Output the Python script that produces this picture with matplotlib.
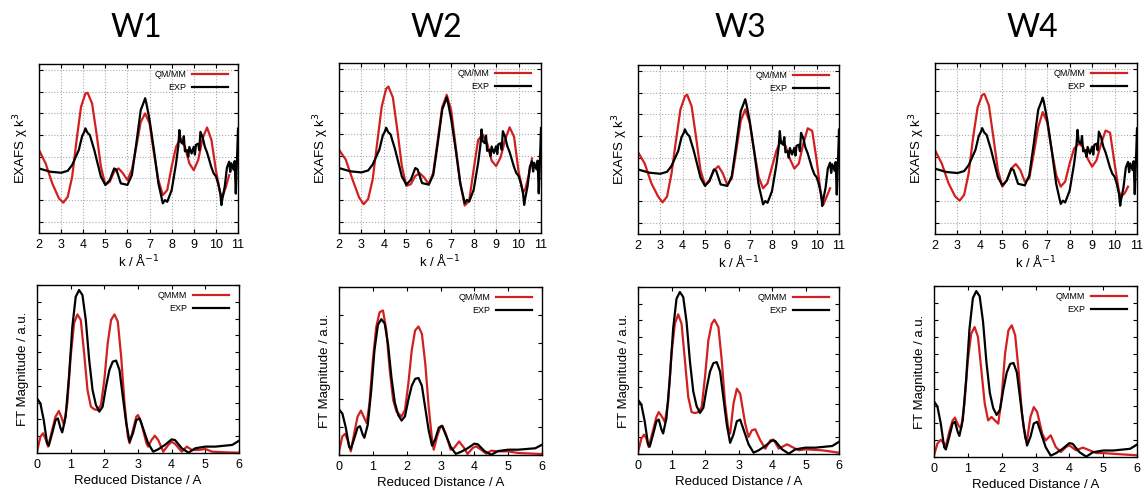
import matplotlib
matplotlib.use('Agg')
import matplotlib.pyplot as plt

# ---- EXAFS chi k^3 (top row); EXP is the same measurement in every panel ----
exp_k = [2.0, 2.5, 3.0, 3.3, 3.5, 3.8, 3.95, 4.05, 4.1, 4.15, 4.2, 4.3, 4.5, 4.8, 5.0, 5.2,
         5.4, 5.5, 5.7, 6.0, 6.2, 6.4, 6.6, 6.75, 6.8, 6.85, 7.0, 7.2, 7.4, 7.6, 7.7, 7.8,
         8.0, 8.2, 8.3, 8.35, 8.4, 8.5, 8.55, 8.6, 8.7, 8.75, 8.8, 8.9, 9.0, 9.05, 9.1,
         9.2, 9.25, 9.3, 9.4, 9.5, 9.6, 9.7, 9.8, 9.9, 10.0, 10.1, 10.2, 10.25, 10.3, 10.4,
         10.5, 10.6, 10.65, 10.7, 10.8, 10.85, 10.9, 10.95, 11.0]
exp_chi = [-0.54, -0.69, -0.74, -0.65, -0.38, 0.31, 0.95, 1.15, 1.31, 1.2, 1.1, 1.0, 0.31,
           -0.92, -1.3, -1.08, -0.54, -0.6, -1.23, -1.3, -0.85, 0.6, 2.15, 2.55, 2.7, 2.5,
           1.7, 0.3, -1.23, -2.15, -2.0, -2.08, -1.54, -0.3, 0.5, 1.23, 0.7, 0.6, 0.95,
           0.25, 0.3, 0.0, 0.45, 0.15, 0.46, 0.1, 0.55, 0.6, 0.3, 1.15, 0.9, 0.46, 0.2,
           -0.15, -0.5, -0.77, -0.9, -1.23, -1.7, -2.23, -1.9, -1.38, -0.5, -0.23, -0.7,
           -0.3, -0.6, -0.2, -1.7, -0.3, 1.3]

qm_k = [2.0, 2.3, 2.6, 2.9, 3.1, 3.3, 3.5, 3.7, 3.9, 4.1, 4.2, 4.4, 4.6, 4.8, 5.0, 5.2,
        5.4, 5.6, 5.8, 6.0, 6.2, 6.4, 6.6, 6.8, 7.0, 7.2, 7.4, 7.6, 7.8, 8.0, 8.2, 8.4,
        8.6, 8.8, 9.0, 9.2, 9.4, 9.6, 9.8, 10.0, 10.2, 10.3, 10.45, 10.6]
qm_chi_w1 = [0.31, -0.31, -1.23, -1.92, -2.12, -1.85, -0.92, 0.77, 2.3, 2.92, 2.95, 2.46,
             1.08, -0.46, -1.3, -1.15, -0.69, -0.54, -0.77, -1.08, -0.6, 0.46, 1.6, 2.0,
             1.54, 0.15, -1.08, -1.77, -1.54, -0.46, 0.46, 0.85, 0.46, -0.31, -0.62, -0.15,
             0.85, 1.35, 0.77, -0.62, -1.7, -1.85, -1.4, -0.85]
qm_chi_w2 = [0.3, -0.15, -1.06, -1.9, -2.2, -1.96, -1.06, 0.6, 2.26, 3.1, 3.2, 2.7,
             1.2, -0.45, -1.36, -1.28, -0.9, -0.78, -0.98, -1.28, -0.75, 0.75, 2.26, 2.82,
             2.1, 0.45, -1.2, -2.26, -2.04, -0.6, 0.75, 1.0, 0.6, -0.2, -0.45, -0.05,
             0.75, 1.33, 0.9, -0.7, -1.66, -1.5, -0.9, -0.1]
qm_chi_w3 = [0.26, -0.27, -1.18, -1.79, -2.06, -1.79, -0.73, 0.79, 2.23, 2.83, 2.91, 2.38,
             0.94, -0.58, -1.26, -1.03, -0.58, -0.39, -0.73, -1.26, -0.95, 0.33, 1.7, 2.23,
             1.62, 0.33, -0.88, -1.41, -1.18, -0.42, 0.33, 0.79, 0.56, -0.05, -0.5, -0.27,
             0.64, 1.36, 1.24, -0.12, -1.79, -2.17, -1.79, -1.41]
qm_chi_w4 = [0.3, -0.3, -1.2, -1.81, -2.0, -1.73, -0.75, 0.9, 2.26, 2.82, 2.87, 2.34,
             0.9, -0.6, -1.36, -1.06, -0.53, -0.33, -0.6, -1.13, -0.98, 0.15, 1.36, 2.04,
             1.58, 0.3, -0.83, -1.36, -1.13, -0.3, 0.38, 0.6, 0.45, -0.08, -0.45, -0.15,
             0.6, 1.2, 1.1, -0.3, -1.6, -1.81, -1.66, -1.36]

# ---- FT magnitude (bottom row) ----
exp_r = [0.0, 0.1, 0.2, 0.3, 0.35, 0.45, 0.55, 0.62, 0.7, 0.75, 0.85, 0.95, 1.05, 1.15,
         1.25, 1.35, 1.45, 1.55, 1.65, 1.75, 1.85, 1.95, 2.05, 2.15, 2.25, 2.35, 2.45,
         2.55, 2.65, 2.75, 2.85, 2.95, 3.05, 3.15, 3.3, 3.45, 3.6, 3.8, 4.0, 4.1, 4.3,
         4.5, 4.7, 5.0, 5.3, 5.6, 5.8, 6.0]
exp_ft = [3.25, 2.96, 1.96, 0.58, 0.44, 1.17, 1.96, 2.06, 1.47, 1.23, 2.16, 4.54, 7.52,
          9.3, 9.7, 9.4, 7.9, 5.54, 3.75, 2.86, 2.46, 2.76, 3.95, 4.94, 5.44, 5.5, 4.94,
          3.35, 1.77, 0.67, 1.17, 1.96, 2.06, 1.47, 0.58, 0.08, 0.22, 0.48, 0.81, 0.77,
          0.28, 0.02, 0.28, 0.38, 0.38, 0.44, 0.48, 0.73]

qm_r_w1 = [0.0, 0.1, 0.18, 0.25, 0.33, 0.45, 0.55, 0.65, 0.72, 0.8, 0.9, 1.0, 1.1, 1.2,
           1.3, 1.4, 1.5, 1.6, 1.7, 1.8, 1.9, 2.0, 2.1, 2.2, 2.3, 2.4, 2.5, 2.6, 2.7, 2.75,
           2.85, 2.95, 3.0, 3.1, 3.25, 3.3, 3.4, 3.5, 3.6, 3.75, 3.9, 4.0, 4.1, 4.3, 4.45,
           4.6, 4.8, 5.0, 5.2, 5.6, 6.0]
qm_ft_w1 = [0.08, 0.97, 1.17, 0.87, 0.38, 1.37, 2.16, 2.5, 2.16, 1.67, 2.96, 5.73, 7.72,
            8.25, 7.92, 5.93, 3.75, 2.76, 2.6, 2.56, 2.86, 4.35, 6.53, 7.92, 8.25, 7.82,
            5.73, 2.96, 0.97, 0.58, 1.37, 2.16, 2.26, 1.77, 0.58, 0.38, 0.77, 1.03, 0.77,
            0.08, 0.48, 0.67, 0.54, 0.08, 0.38, 0.18, 0.18, 0.24, 0.08, 0.04, 0.02]
qm_r_w2 = [0.0, 0.1, 0.18, 0.25, 0.35, 0.45, 0.55, 0.65, 0.75, 0.82, 0.9, 1.0, 1.1, 1.2,
           1.3, 1.4, 1.5, 1.6, 1.7, 1.85, 1.95, 2.05, 2.15, 2.25, 2.35, 2.45, 2.55, 2.65,
           2.75, 2.8, 2.9, 3.0, 3.05, 3.15, 3.3, 3.4, 3.55, 3.7, 3.8, 3.95, 4.05, 4.2,
           4.35, 4.5, 4.7, 5.0, 5.3, 6.0]
qm_ft_w2 = [0.26, 1.33, 1.51, 1.09, 0.26, 1.56, 2.75, 3.17, 2.63, 2.27, 3.69, 6.77, 9.14,
            10.2, 10.32, 8.9, 6.06, 3.93, 3.1, 2.75, 3.22, 5.11, 7.48, 8.9, 9.18, 8.66,
            6.53, 3.46, 1.09, 0.38, 1.33, 2.04, 2.1, 1.56, 0.38, 0.5, 0.97, 0.5, 0.07, 0.5,
            0.62, 0.38, 0.09, 0.31, 0.26, 0.26, 0.14, 0.07]
qm_r_w3 = [0.0, 0.1, 0.18, 0.25, 0.32, 0.45, 0.55, 0.62, 0.72, 0.8, 0.9, 1.0, 1.1, 1.2,
           1.3, 1.4, 1.5, 1.6, 1.7, 1.8, 1.9, 2.0, 2.1, 2.2, 2.28, 2.4, 2.5, 2.6, 2.7,
           2.75, 2.85, 2.95, 3.05, 3.2, 3.3, 3.4, 3.5, 3.65, 3.8, 3.95, 4.05, 4.2, 4.45,
           4.6, 4.8, 5.0, 5.5, 6.0]
qm_ft_w3 = [0.12, 0.92, 1.16, 0.92, 0.42, 1.42, 2.22, 2.51, 2.22, 1.92, 3.11, 6.0, 7.8,
            8.36, 7.8, 5.61, 3.41, 2.51, 2.45, 2.51, 2.81, 4.61, 6.8, 7.8, 8.04, 7.6, 5.61,
            3.01, 1.42, 1.22, 3.01, 3.91, 3.61, 1.82, 1.02, 1.42, 1.48, 0.82, 0.32, 0.82,
            0.86, 0.32, 0.58, 0.42, 0.22, 0.28, 0.22, 0.08]
qm_r_w4 = [0.0, 0.1, 0.2, 0.3, 0.35, 0.45, 0.55, 0.62, 0.72, 0.8, 0.9, 1.0, 1.1, 1.2,
           1.3, 1.4, 1.5, 1.6, 1.7, 1.8, 1.9, 2.0, 2.1, 2.2, 2.3, 2.4, 2.5, 2.6, 2.7, 2.75,
           2.85, 2.95, 3.05, 3.2, 3.3, 3.45, 3.6, 3.75, 3.9, 4.0, 4.2, 4.4, 4.6, 4.8, 5.0,
           5.5, 6.0]
qm_ft_w4 = [0.1, 0.78, 1.01, 0.78, 0.64, 1.46, 2.14, 2.3, 1.85, 1.66, 3.12, 5.65, 7.21,
            7.6, 7.02, 5.07, 3.12, 2.14, 2.34, 2.14, 1.95, 3.51, 6.04, 7.41, 7.7, 7.11,
            5.07, 2.53, 1.07, 0.97, 2.34, 2.92, 2.63, 1.36, 0.97, 1.27, 0.58, 0.29, 0.58,
            0.68, 0.39, 0.55, 0.39, 0.23, 0.23, 0.16, 0.1]

titles = ['W1', 'W2', 'W3', 'W4']
title_x = [136, 436, 740, 1032]
qm_chi = [qm_chi_w1, qm_chi_w2, qm_chi_w3, qm_chi_w4]
qm_r = [qm_r_w1, qm_r_w2, qm_r_w3, qm_r_w4]
qm_ft = [qm_ft_w1, qm_ft_w2, qm_ft_w3, qm_ft_w4]
ft_labels = ['QMMM', 'QM/MM', 'QMMM', 'QMMM']
ft_top = [10, 12, 10, 10]
ft_step = [1, 2, 1, 1]

# axes boxes in pixels (left, right, top, bottom)
top_boxes = [(39, 238, 64, 233), (339, 541, 63, 233), (638, 839, 65, 234), (935, 1137, 63, 234)]
bot_boxes = [(37, 239, 285, 453), (339, 542, 287, 455), (638, 839, 287, 454), (934, 1137, 286, 457)]

W, H = 1146, 496
RED = '#d21f1f'
plt.rcParams['font.family'] = ['Liberation Sans', 'DejaVu Sans']
fig = plt.figure(figsize=(W / 100, H / 100), dpi=100)

def add_axes(box):
    l, r, t, b = box
    return fig.add_axes([l / W, 1 - b / H, (r - l) / W, (b - t) / H])

def style(ax):
    ax.tick_params(direction='in', top=True, right=True, length=3, width=0.8,
                   labelsize=9, pad=4, labelleft=False)
    for s in ax.spines.values():
        s.set_linewidth(1.0)

def legend(ax, lab):
    ax.legend([lab, 'EXP'], loc='upper right', frameon=False, markerfirst=False,
              fontsize=6.5, handlelength=4.0, labelspacing=0.4, borderaxespad=0.3,
              bbox_to_anchor=(0.98, 1.0), handletextpad=0.6)

for i in range(4):
    fig.text(title_x[i] / W, 1 - 28 / H, titles[i], fontsize=23, ha='center', va='center',
             family=['Lato', 'DejaVu Sans'])

    ax = add_axes(top_boxes[i])
    ax.plot(qm_k, qm_chi[i], color=RED, lw=1.6)
    ax.plot(exp_k, exp_chi, color='black', lw=1.6)
    ax.set_xlim(2, 11)
    ax.set_ylim(-3.52, 4.28)
    ax.set_xticks(range(2, 12))
    ax.set_yticks(range(-3, 5))
    ax.grid(True, color='#aaaaaa', linestyle=':', linewidth=0.8)
    style(ax)
    ax.set_xlabel('k / Å$^{-1}$', fontsize=9.5, labelpad=2)
    ax.set_ylabel('EXAFS χ k$^3$', fontsize=9.5, labelpad=6)
    legend(ax, 'QM/MM')

    ax = add_axes(bot_boxes[i])
    ax.plot(qm_r[i], qm_ft[i], color=RED, lw=1.6)
    ax.plot(exp_r, exp_ft, color='black', lw=1.6)
    ax.set_xlim(0, 6)
    ax.set_ylim(0, ft_top[i])
    ax.set_xticks(range(0, 7))
    ax.set_yticks(range(0, ft_top[i] + 1, ft_step[i]))
    style(ax)
    ax.set_xlabel('Reduced Distance / A', fontsize=9.5, labelpad=3)
    ax.set_ylabel('FT Magnitude / a.u.', fontsize=9.5, labelpad=6)
    legend(ax, ft_labels[i])

fig.savefig('out.png', dpi=100)
